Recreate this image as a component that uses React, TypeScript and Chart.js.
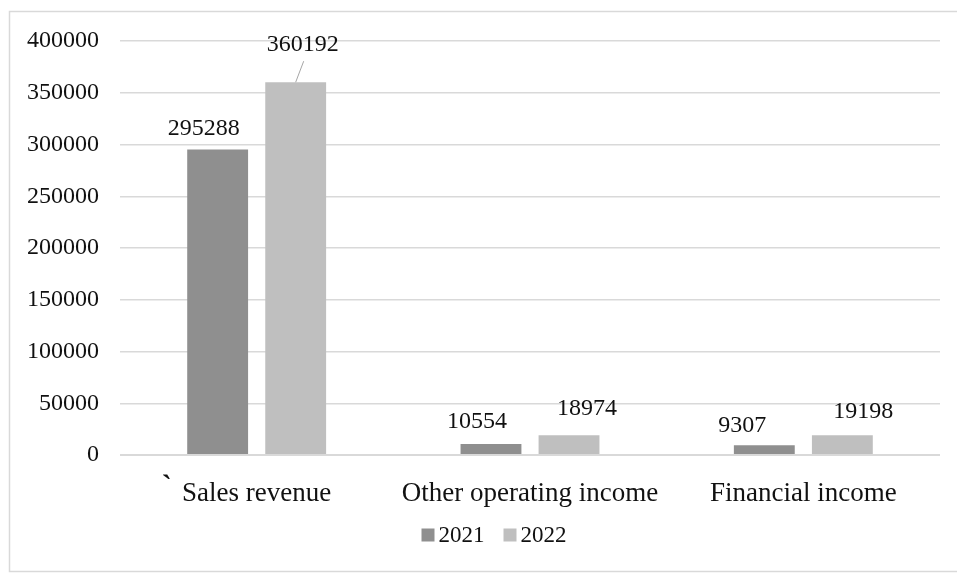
import React, { useEffect, useRef } from "react";
import { Chart, registerables } from "chart.js";

Chart.register(...registerables);

const categories = ["Sales revenue", "Other operating income", "Financial income"];
const seriesNames = ["2021", "2022"];
const values2021 = [295288, 10554, 9307];
const values2022 = [360192, 18974, 19198];
const yTicks = [0, 50000, 100000, 150000, 200000, 250000, 300000, 350000, 400000];

const COLORS = ["#8f8f8f", "#bfbfbf"];
const FONT = "'Liberation Serif', 'Times New Roman', serif";
const TEXT = "#111111";
// label placement (dx, dy above bar top, leader line)
const LABEL_OFFSETS = [
  [[-14, 21, false], [-14, 22, false], [-22, 20, false]],
  [[7, 37, true], [18, 27, false], [21, 23, false]],
];
const LEGEND_CENTER_X = 494;
const LEGEND_Y = 535;

const framePlugin = {
  id: "frame",
  beforeDraw(chart: any) {
    const ctx = chart.ctx;
    ctx.save();
    ctx.fillStyle = "#ffffff";
    ctx.fillRect(0, 0, chart.width, chart.height);
    ctx.strokeStyle = "#d9d9d9";
    ctx.lineWidth = 1.5;
    ctx.strokeRect(9.5, 11.5, chart.width + 10, 560);
    ctx.restore();
  },
};

const labelsPlugin = {
  id: "dataLabels",
  afterDatasetsDraw(chart: any) {
    const ctx = chart.ctx;
    ctx.save();
    ctx.font = `24px ${FONT}`;
    ctx.fillStyle = TEXT;
    ctx.textAlign = "center";
    ctx.textBaseline = "middle";
    chart.data.datasets.forEach((ds: any, i: number) => {
      const meta = chart.getDatasetMeta(i);
      meta.data.forEach((bar: any, j: number) => {
        const [dx, dy, leader] = LABEL_OFFSETS[i][j] as [number, number, boolean];
        const tx = bar.x + dx;
        const ty = bar.y - dy;
        ctx.fillText(String(ds.data[j]), tx, ty);
        if (leader) {
          ctx.strokeStyle = "#a6a6a6";
          ctx.lineWidth = 1;
          ctx.beginPath();
          ctx.moveTo(bar.x, bar.y);
          ctx.lineTo(bar.x + 8, ty + 16);
          ctx.stroke();
        }
      });
    });
    // stray mark left of first category label
    const xs = chart.scales.x;
    const p0 = xs.getPixelForTick(0);
    ctx.font = `bold 30px ${FONT}`;
    ctx.textBaseline = "top";
    ctx.fillText("`", p0 - 90, chart.chartArea.bottom + 17);
    ctx.restore();
  },
};

const legendPlugin = {
  id: "customLegend",
  afterDraw(chart: any) {
    const ctx = chart.ctx;
    ctx.save();
    ctx.font = `23px ${FONT}`;
    const box = 13;
    const gap = 4;
    const spacing = 19;
    const items = chart.data.datasets.map((ds: any) => ({
      text: ds.label,
      color: ds.backgroundColor,
      w: ctx.measureText(ds.label).width,
    }));
    const total =
      items.reduce((s: number, it: any) => s + box + gap + it.w, 0) + spacing * (items.length - 1);
    let x = LEGEND_CENTER_X - total / 2;
    ctx.textBaseline = "middle";
    ctx.textAlign = "left";
    items.forEach((it: any) => {
      ctx.fillStyle = it.color;
      ctx.fillRect(x, LEGEND_Y - box / 2, box, box);
      ctx.fillStyle = TEXT;
      ctx.fillText(it.text, x + box + gap, LEGEND_Y + 1);
      x += box + gap + it.w + spacing;
    });
    ctx.restore();
  },
};

export default function App() {
  const ref = useRef<HTMLCanvasElement | null>(null);
  useEffect(() => {
    if (!ref.current) return;
    const chart = new Chart(ref.current, {
      type: "bar",
      data: {
        labels: categories,
        datasets: [
          {
            label: seriesNames[0],
            data: values2021,
            backgroundColor: COLORS[0],
            categoryPercentage: 0.571,
            barPercentage: 0.78,
          },
          {
            label: seriesNames[1],
            data: values2022,
            backgroundColor: COLORS[1],
            categoryPercentage: 0.571,
            barPercentage: 0.78,
          },
        ],
      },
      options: {
        animation: false,
        responsive: false,
        maintainAspectRatio: false,
        layout: { padding: { top: 41, right: 17, left: 0, bottom: 0 } },
        plugins: {
          legend: { display: false },
          tooltip: { enabled: false },
        },
        scales: {
          x: {
            grid: { display: false },
            border: { display: false },
            ticks: {
              color: TEXT,
              font: { family: FONT, size: 27 },
              padding: 15,
              maxRotation: 0,
              autoSkip: false,
            },
            afterFit(scale: any) {
              scale.height = 119;
            },
          },
          y: {
            min: 0,
            max: 400000,
            border: { display: false },
            grid: {
              color: "#d9d9d9",
              lineWidth: (c: any) => (c.tick && c.tick.value === 0 ? 2 : 1.5),
              drawTicks: false,
            },
            afterBuildTicks(scale: any) {
              scale.ticks = yTicks.map((v) => ({ value: v }));
            },
            ticks: {
              color: TEXT,
              font: { family: FONT, size: 24 },
              padding: 21,
              callback: (v: any) => String(v),
            },
            afterFit(scale: any) {
              scale.width = 120;
            },
          },
        },
      },
      plugins: [framePlugin, labelsPlugin, legendPlugin],
    });
    return () => chart.destroy();
  }, []);
  return (
    <div style={{ position: "absolute", left: 0, top: 0, width: 957, height: 574 }}>
      <canvas ref={ref} width={957} height={574} style={{ display: "block" }} />
    </div>
  );
}
